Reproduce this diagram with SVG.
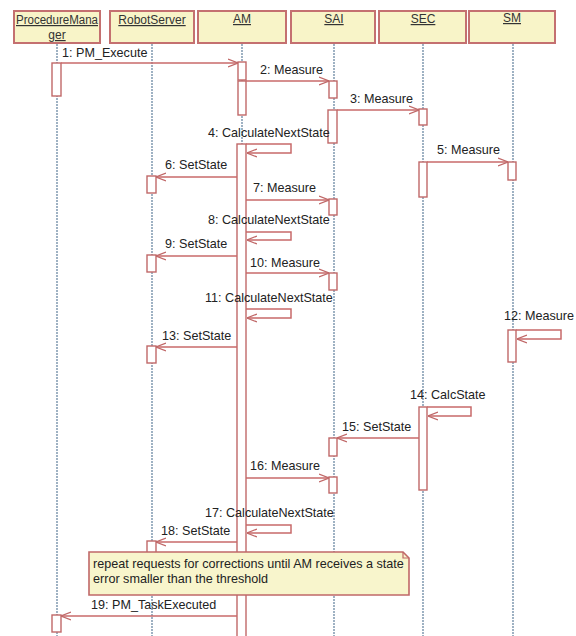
<svg xmlns="http://www.w3.org/2000/svg" width="576" height="636" viewBox="0 0 576 636">
  <defs>
    <marker id="open" viewBox="0 0 10 10" refX="10" refY="5" markerWidth="10" markerHeight="10" markerUnits="userSpaceOnUse" orient="auto">
      <path d="M0,1 L10,5 L0,9" fill="none" stroke="#c06868" stroke-width="1.3"/>
    </marker>
  </defs>
  <style>
    text { font-family: "Liberation Sans", Arial, sans-serif; font-size: 12.6px; fill: #222; }
    .head { fill: #f8f4c8; stroke: #c47070; stroke-width: 2; }
    .hname { text-decoration: underline; fill: #333; font-size: 12px; }
    .life { stroke: #5f7f9c; stroke-width: 1.2; stroke-dasharray: 2 1; fill: none; }
    .act { fill: #ffffff; stroke: #c06868; stroke-width: 1.4; }
    .msg { stroke: #c86a6a; stroke-width: 1.5; fill: none; marker-end: url(#open); }
    .note { fill: #f8f5cc; stroke: #c06868; stroke-width: 1.6; }
  </style>
  <rect width="576" height="636" fill="#ffffff"/>

  <!-- lifelines -->
  <g id="lifelines">
    <line class="life" x1="57" y1="44" x2="57" y2="636"/>
    <line class="life" x1="152" y1="44" x2="152" y2="636"/>
    <line class="life" x1="242" y1="44" x2="242" y2="636"/>
    <line class="life" x1="334" y1="44" x2="334" y2="636"/>
    <line class="life" x1="423" y1="44" x2="423" y2="636"/>
    <line class="life" x1="513" y1="44" x2="513" y2="636"/>
  </g>

  <!-- participants -->
  <g id="ProcedureManager">
    <rect class="head" x="14" y="11" width="86" height="32"/>
    <text class="hname" x="57" y="24" text-anchor="middle" textLength="82" lengthAdjust="spacingAndGlyphs">ProcedureMana</text>
    <text class="hname" x="57" y="39" text-anchor="middle">ger</text>
    <rect class="act" x="52" y="63" width="9" height="33"/>
    <rect class="act" x="52" y="615" width="9" height="17"/>
  </g>
  <g id="RobotServer">
    <rect class="head" x="110" y="11" width="84" height="32"/>
    <text class="hname" x="152" y="24" text-anchor="middle">RobotServer</text>
    <rect class="act" x="147" y="176" width="9" height="17"/>
    <rect class="act" x="147" y="255" width="9" height="17"/>
    <rect class="act" x="147" y="346" width="9" height="17"/>
    <rect class="act" x="147" y="541" width="9" height="12"/>
  </g>
  <g id="AM">
    <rect class="head" x="198" y="11" width="88" height="32"/>
    <text class="hname" x="242" y="23" text-anchor="middle">AM</text>
    <rect class="act" x="238" y="62" width="8" height="18"/>
    <rect class="act" x="238" y="81" width="8" height="34"/>
    <rect class="act" x="237" y="144" width="9" height="500"/>
  </g>
  <g id="SAI">
    <rect class="head" x="291" y="11" width="84" height="32"/>
    <text class="hname" x="334" y="23" text-anchor="middle">SAI</text>
    <rect class="act" x="329" y="81" width="8" height="17"/>
    <rect class="act" x="328" y="110" width="9" height="33"/>
    <rect class="act" x="329" y="199" width="8" height="16"/>
    <rect class="act" x="329" y="273" width="8" height="17"/>
    <rect class="act" x="329" y="438" width="8" height="18"/>
    <rect class="act" x="329" y="477" width="8" height="16"/>
  </g>
  <g id="SEC">
    <rect class="head" x="379" y="11" width="87" height="32"/>
    <text class="hname" x="423" y="23" text-anchor="middle">SEC</text>
    <rect class="act" x="419" y="109" width="8" height="16"/>
    <rect class="act" x="419" y="162" width="8" height="35"/>
    <rect class="act" x="419" y="407" width="8" height="83"/>
  </g>
  <g id="SM">
    <rect class="head" x="469" y="11" width="86" height="32"/>
    <text class="hname" x="512" y="22" text-anchor="middle">SM</text>
    <rect class="act" x="508" y="162" width="8" height="18"/>
    <rect class="act" x="508" y="330" width="8" height="32"/>
  </g>

  <!-- messages -->
  <g id="connectors">
    <line class="msg" x1="61" y1="63" x2="238" y2="63"/>
    <line class="msg" x1="246" y1="81" x2="329" y2="81"/>
    <line class="msg" x1="337" y1="110" x2="419" y2="110"/>
    <path class="msg" d="M246,144 H291 V153 H247"/>
    <line class="msg" x1="427" y1="162" x2="508" y2="162"/>
    <line class="msg" x1="237" y1="177" x2="156" y2="177"/>
    <line class="msg" x1="246" y1="200" x2="329" y2="200"/>
    <path class="msg" d="M246,232 H291 V240 H247"/>
    <line class="msg" x1="237" y1="256" x2="156" y2="256"/>
    <line class="msg" x1="246" y1="273" x2="329" y2="273"/>
    <path class="msg" d="M246,309 H291 V318 H247"/>
    <path class="msg" d="M516,330 H561 V339 H517"/>
    <line class="msg" x1="237" y1="347" x2="156" y2="347"/>
    <path class="msg" d="M427,407 H471 V416 H428"/>
    <line class="msg" x1="419" y1="438" x2="337" y2="438"/>
    <line class="msg" x1="246" y1="478" x2="329" y2="478"/>
    <path class="msg" d="M246,525 H291 V533 H247"/>
    <line class="msg" x1="237" y1="542" x2="156" y2="542"/>
    <line class="msg" x1="237" y1="616" x2="61" y2="616"/>
  </g>

  <!-- message labels -->
  <g id="labels">
    <text x="62" y="57">1: PM_Execute</text>
    <text x="260" y="74">2: Measure</text>
    <text x="350" y="103">3: Measure</text>
    <text x="208" y="137">4: CalculateNextState</text>
    <text x="437" y="154">5: Measure</text>
    <text x="165" y="169">6: SetState</text>
    <text x="253" y="192">7: Measure</text>
    <text x="208" y="224">8: CalculateNextState</text>
    <text x="165" y="248">9: SetState</text>
    <text x="250" y="267">10: Measure</text>
    <text x="205" y="302">11: CalculateNextState</text>
    <text x="504" y="320">12: Measure</text>
    <text x="410" y="399">14: CalcState</text>
    <text x="162" y="340">13: SetState</text>
    <text x="342" y="431">15: SetState</text>
    <text x="250" y="470">16: Measure</text>
    <text x="205" y="517">17: CalculateNextState</text>
    <text x="161" y="535">18: SetState</text>
    <text x="91" y="609">19: PM_TaskExecuted</text>
  </g>

  <!-- note -->
  <g id="note">
    <path class="note" d="M89,552 H403 L409,558 V595 H89 Z"/>
    <path d="M403,552 V558 H409" fill="none" stroke="#c06868" stroke-width="1.2"/>
    <text x="93" y="568">repeat requests for corrections until AM receives a state</text>
    <text x="93" y="583">error smaller than the threshold</text>
  </g>
</svg>
